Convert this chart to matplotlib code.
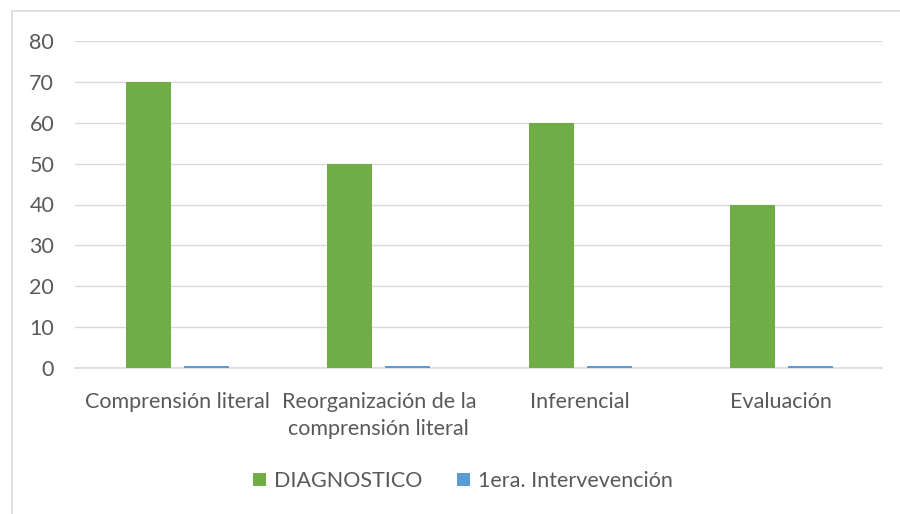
import matplotlib
matplotlib.use("Agg")
import matplotlib.pyplot as plt
import numpy as np
from matplotlib.patches import Rectangle

categories = ["Comprensión literal", "Reorganización de la\ncomprensión literal", "Inferencial", "Evaluación"]
diagnostico = [70, 50, 60, 40]
intervencion = [0.5, 0.5, 0.6, 0.4]
series_names = ["DIAGNOSTICO", "1era. Intervevención"]
yticks = [0, 10, 20, 30, 40, 50, 60, 70, 80]

plt.rcParams['font.family'] = ['Lato', 'DejaVu Sans']
FS = 15.5

fig = plt.figure(figsize=(9, 5.14), dpi=100)
fig.patch.set_facecolor('white')
fig.patches.append(Rectangle((12/900, -0.1), 1.0, 1 - 11/514 + 0.1, transform=fig.transFigure,
                             fill=False, edgecolor='#d9d9d9', linewidth=1.2, zorder=0))

ax = fig.add_axes([75/900, 1 - 368/514, (882 - 75)/900, (368 - 41)/514])
x = np.arange(len(categories))
w = 0.2235
off = 0.144
b1 = ax.bar(x - off, diagnostico, width=w, color='#70ad47', zorder=3, label=series_names[0])
b2 = ax.bar(x + off, intervencion, width=w, color='#5b9bd5', zorder=3, label=series_names[1])

ax.set_xlim(-0.509, len(categories) - 0.5)
ax.set_ylim(0, 80)
ax.set_yticks(yticks)
ax.set_xticks(x)
ax.set_xticklabels(categories, fontsize=FS, color='#595959', linespacing=1.45)
ax.tick_params(axis='y', labelsize=FS, labelcolor='#595959', length=0, pad=15)
ax.tick_params(axis='x', length=0, pad=17)
ax.grid(axis='y', color='#d9d9d9', linewidth=1, zorder=0)
ax.set_axisbelow(True)
for s in ['top', 'right', 'left']:
    ax.spines[s].set_visible(False)
ax.spines['bottom'].set_color('#d9d9d9')
ax.spines['bottom'].set_linewidth(1.2)

fig.legend(handles=[b1, b2], labels=series_names, loc='center', bbox_to_anchor=(463/900, 1 - 481/514),
           ncol=2, frameon=False, fontsize=FS, labelcolor='#595959',
           handlelength=0.6, handleheight=0.6, handletextpad=0.37, columnspacing=1.6)

fig.savefig('out.png', dpi=100)
